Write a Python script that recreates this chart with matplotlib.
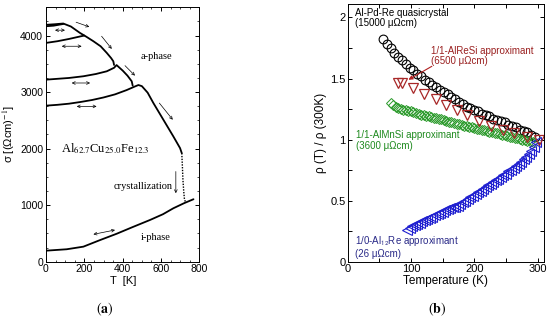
import matplotlib
matplotlib.use("Agg")
import matplotlib.pyplot as plt
from matplotlib.ticker import MultipleLocator

plt.rcParams["font.family"] = ["Liberation Sans", "DejaVu Sans"]
plt.rcParams["mathtext.fontset"] = "stix"

# --- panel (a): conductivity of Al-Cu-Fe film ---
c1_T = [0, 45, 90, 130, 177, 210, 247, 285, 317, 340, 351, 355]
c1_s = [4190, 4200, 4213, 4160, 4047, 3980, 3900, 3810, 3693, 3600, 3545, 3480]
c1b_T = [0, 40, 90]
c1b_s = [4165, 4175, 4205]
c2_T = [0, 60, 120, 183, 200]
c2_s = [3870, 3900, 3940, 3988, 4000]
c3_T = [0, 60, 120, 195, 260, 317, 355, 368, 400, 425, 447, 452]
c3_s = [3220, 3235, 3250, 3280, 3320, 3368, 3430, 3478, 3380, 3290, 3191, 3115]
c4_T = [0, 60, 120, 180, 240, 300, 360, 420, 464, 482, 500, 530, 560, 612, 664, 699, 708]
c4_s = [2760, 2775, 2795, 2825, 2860, 2905, 2960, 3035, 3100, 3125, 3105, 2990, 2806,
        2511, 2216, 2009, 1920]
cryst_T = [708, 711, 714, 718, 722, 727]
cryst_s = [1920, 1700, 1450, 1250, 1100, 1060]
iph_T = [0, 108, 195, 280, 369, 450, 543, 610, 664, 720, 769]
iph_s = [195, 220, 266, 380, 495, 610, 739, 840, 945, 1035, 1105]

# --- panel (b): normalised resistivity ---
qc_T = [56, 62, 68, 74, 80, 86, 92, 98, 104, 110, 116, 122, 128, 134, 140, 146, 152,
        158, 164, 170, 176, 182, 188, 194, 200, 206, 212, 218, 224, 230, 236, 242, 248,
        254, 260, 266, 272, 278, 284, 290, 296]
qc_r = [1.82, 1.78, 1.75, 1.71, 1.68, 1.65, 1.62, 1.59, 1.57, 1.54, 1.52, 1.49, 1.47,
        1.45, 1.43, 1.41, 1.39, 1.37, 1.35, 1.33, 1.31, 1.29, 1.27, 1.26, 1.24, 1.23,
        1.21, 1.20, 1.19, 1.17, 1.16, 1.15, 1.14, 1.12, 1.11, 1.10, 1.08, 1.07, 1.06,
        1.04, 1.02]
resi_T = [80, 86, 104, 121, 139, 156, 172, 189, 207, 226, 246, 263, 284, 302]
resi_r = [1.46, 1.46, 1.42, 1.37, 1.33, 1.28, 1.24, 1.20, 1.15, 1.11, 1.08, 1.05, 1.02, 1.0]
mnsi_T = [68, 72, 76, 80, 84, 88, 92, 96, 100, 104, 108, 112, 116, 120, 124, 128, 132,
          136, 140, 144, 148, 152, 156, 160, 164, 168, 172, 176, 180, 184, 188, 192, 196,
          200, 204, 208, 212, 216, 220, 224, 228, 232, 236, 240, 244, 248, 252, 256, 260,
          264, 268, 272, 276, 280, 284, 288, 292]
mnsi_r = [1.30, 1.28, 1.27, 1.26, 1.25, 1.245, 1.24, 1.235, 1.23, 1.225, 1.22, 1.21,
          1.205, 1.20, 1.195, 1.19, 1.185, 1.18, 1.175, 1.17, 1.165, 1.16, 1.15, 1.145,
          1.14, 1.135, 1.13, 1.125, 1.12, 1.115, 1.11, 1.105, 1.10, 1.095, 1.09, 1.085,
          1.08, 1.075, 1.07, 1.065, 1.06, 1.055, 1.05, 1.045, 1.04, 1.035, 1.03, 1.025,
          1.02, 1.015, 1.01, 1.005, 1.00, 0.995, 0.99, 0.985, 0.98]
al12_T = [94, 98, 102, 106, 110, 114, 118, 122, 126, 130, 134, 138, 142, 146, 150, 154,
          158, 162, 166, 170, 174, 178, 182, 186, 190, 194, 198, 202, 206, 210, 214, 218,
          222, 226, 230, 234, 238, 242, 246, 250, 254, 258, 262, 266, 270, 274, 278, 282,
          286, 290, 294, 298]
al12_r = [0.26, 0.28, 0.29, 0.30, 0.31, 0.32, 0.33, 0.34, 0.35, 0.36, 0.37, 0.38, 0.39,
          0.40, 0.41, 0.42, 0.43, 0.44, 0.445, 0.45, 0.46, 0.475, 0.49, 0.50, 0.515, 0.53,
          0.54, 0.555, 0.57, 0.58, 0.595, 0.61, 0.625, 0.635, 0.65, 0.665, 0.68, 0.695,
          0.71, 0.72, 0.74, 0.75, 0.77, 0.785, 0.80, 0.82, 0.84, 0.86, 0.88, 0.91, 0.94, 0.98]

fig = plt.figure(figsize=(5.5, 3.27), dpi=100)

# ---------------- (a) ----------------
ax = fig.add_axes([0.0836, 0.1997, 0.279, 0.778])
for T, s in [(c1_T, c1_s), (c1b_T, c1b_s), (c2_T, c2_s), (c3_T, c3_s), (c4_T, c4_s),
             (iph_T, iph_s)]:
    ax.plot(T, s, color="black", lw=1.3, solid_capstyle="round")
ax.plot(cryst_T, cryst_s, color="black", lw=1.0, ls=(0, (1, 1)))

ax.set_xlim(0, 800)
ax.set_ylim(0, 4500)
ax.xaxis.set_major_locator(MultipleLocator(200))
ax.xaxis.set_minor_locator(MultipleLocator(50))
ax.yaxis.set_major_locator(MultipleLocator(1000))
ax.yaxis.set_minor_locator(MultipleLocator(250))
ax.tick_params(which="both", direction="in", top=True, right=True, labelsize=7.5, pad=2)
ax.tick_params(which="major", length=3, width=0.7)
ax.tick_params(which="minor", length=1.5, width=0.5)
for sp in ax.spines.values():
    sp.set_linewidth(0.7)
ax.set_xlabel("T  [K]", fontsize=8, labelpad=1)
ax.set_ylabel("σ [(Ωcm)$^{-1}$]", fontsize=8, labelpad=2)

dbl = dict(arrowstyle="<->", lw=0.5, color="black", shrinkA=0, shrinkB=0,
           mutation_scale=5)
sgl = dict(arrowstyle="->", lw=0.5, color="black", shrinkA=0, shrinkB=0,
           mutation_scale=5)
for (x0, y0), (x1, y1) in [((47, 4095), (99, 4095)), ((82, 3811), (186, 3811)),
                           ((134, 3161), (230, 3161)), ((160, 2747), (264, 2747)),
                           ((247, 484), (360, 561))]:
    ax.annotate("", xy=(x1, y1), xytext=(x0, y0), arrowprops=dbl)
for (x0, y0), (x1, y1) in [((157, 4236), (226, 4153)), ((290, 3988), (343, 3764)),
                           ((412, 3468), (464, 3291)), ((591, 2806), (661, 2511)),
                           ((677, 1595), (677, 1211))]:
    ax.annotate("", xy=(x1, y1), xytext=(x0, y0), arrowprops=sgl)

serif = ["Liberation Serif", "DejaVu Serif"]
ax.text(577, 3634, "a-phase", family=serif, fontsize=7.5, ha="center", va="center")
ax.text(308, 2009, "Al$_{62.7}$Cu$_{25.0}$Fe$_{12.3}$", family=serif, fontsize=9,
        ha="center", va="center")
ax.text(508, 1329, "crystallization", family=serif, fontsize=7.5, ha="center",
        va="center")
ax.text(570, 431, "i-phase", family=serif, fontsize=7.5, ha="center", va="center")

# ---------------- (b) ----------------
bx = fig.add_axes([0.632, 0.1997, 0.357, 0.788])
bx.plot(qc_T, qc_r, "o", ms=6.3, mfc="none", mec="black", mew=0.8)
bx.plot(mnsi_T, mnsi_r, "D", ms=5.5, mfc="none", mec="#2a9a2a", mew=0.7)
bx.plot(al12_T, al12_r, "<", ms=7, mfc="none", mec="#2020d0", mew=0.8)
bx.plot(resi_T, resi_r, "v", ms=7.5, mfc="none", mec="#a82828", mew=0.9)

bx.set_xlim(0, 310)
bx.set_ylim(0, 2.11)
bx.xaxis.set_major_locator(MultipleLocator(100))
bx.xaxis.set_minor_locator(MultipleLocator(50))
bx.yaxis.set_major_locator(MultipleLocator(0.5))
bx.yaxis.set_minor_locator(MultipleLocator(0.25))
bx.set_yticks([0, 0.5, 1, 1.5, 2])
bx.set_yticklabels(["0", "0.5", "1", "1.5", "2"])
bx.tick_params(which="both", direction="in", top=True, right=True, labelsize=8, pad=1.5)
bx.tick_params(which="major", length=3, width=0.7)
bx.tick_params(which="minor", length=3, width=0.7)
for sp in bx.spines.values():
    sp.set_linewidth(0.7)
bx.set_xlabel("Temperature (K)", fontsize=8.5, labelpad=1)
bx.set_ylabel("ρ (T) / ρ (300K)", fontsize=8.5, labelpad=2)

bx.text(12, 2.08, "Al-Pd-Re quasicrystal\n(15000 μΩcm)", fontsize=7, color="black",
        va="top", ha="left", linespacing=1.1)
bx.text(132, 1.77, "1/1-AlReSi approximant\n(6500 μΩcm)", fontsize=7, color="#9a2020",
        va="top", ha="left", linespacing=1.1)
bx.annotate("", xy=(96, 1.49), xytext=(133, 1.60),
            arrowprops=dict(arrowstyle="-|>", color="#b02020", lw=0.8,
                            mutation_scale=6, shrinkA=0, shrinkB=0))
bx.text(14, 1.08, "1/1-AlMnSi approximant\n(3600 μΩcm)", fontsize=7, color="#1e8a1e",
        va="top", ha="left", linespacing=1.1)
bx.text(12, 0.225, "1/0-Al$_{\\mathsf{12}}$Re approximant\n(26 μΩcm)", fontsize=7,
        color="#2a2a88", va="top", ha="left", linespacing=1.1)

# panel captions
fig.text(0.191, 0.043, r"$\mathrm{(}\mathbf{a}\mathrm{)}$", fontsize=10, ha="center")
fig.text(0.795, 0.043, r"$\mathrm{(}\mathbf{b}\mathrm{)}$", fontsize=10, ha="center")

fig.savefig("out.png", dpi=100)
